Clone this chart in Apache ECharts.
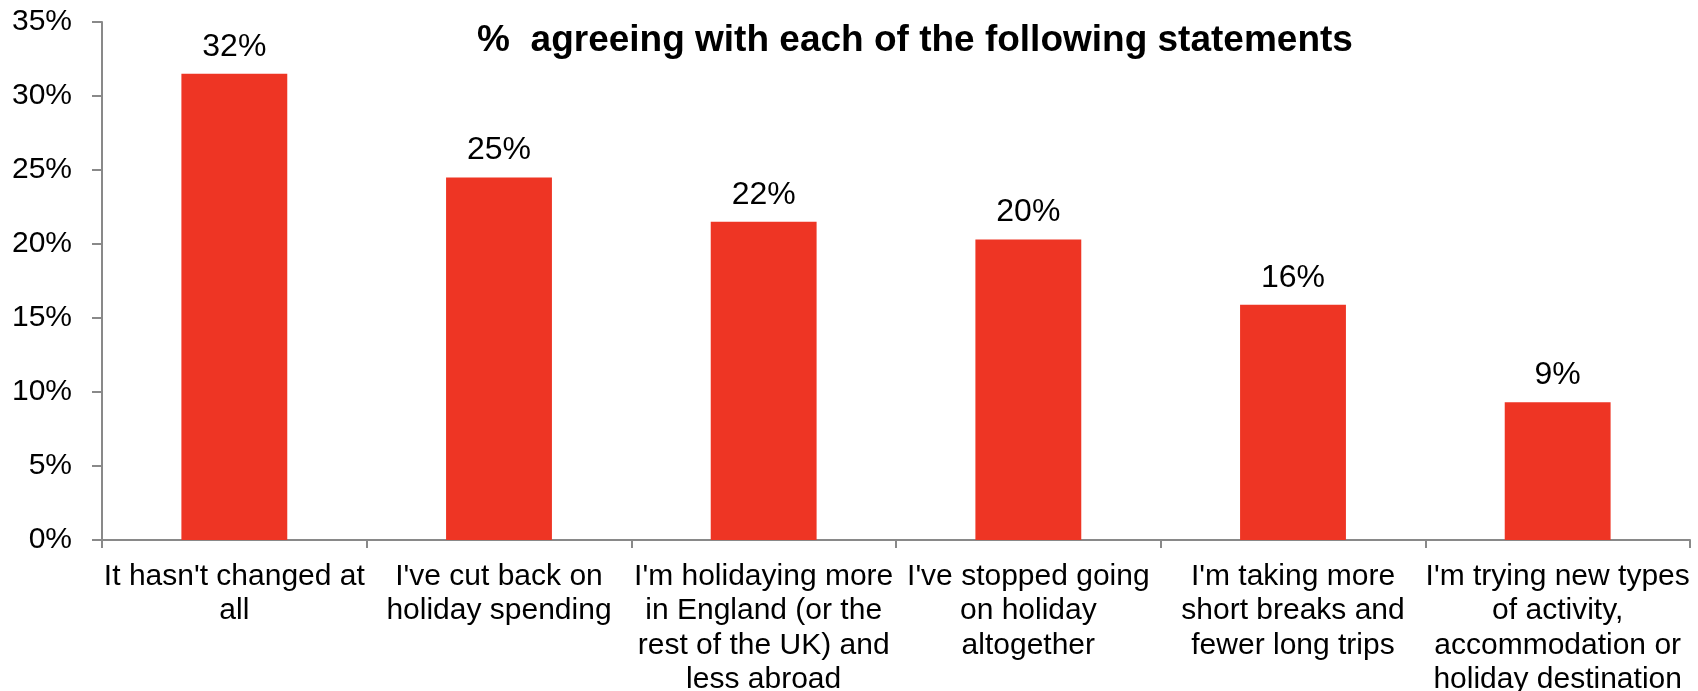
<!DOCTYPE html>
<html>
<head>
<meta charset="utf-8">
<title>% agreeing with each of the following statements</title>
<script src="https://cdn.jsdelivr.net/npm/echarts@6/dist/echarts.min.js"></script>
<style>
  html, body { margin: 0; padding: 0; background: #ffffff; }
  #chart { width: 1698px; height: 691px; }
</style>
</head>
<body>
<div id="chart"></div>
<script>
// Survey statements (x-axis categories, wrapped as printed)
const categories = [
  "It hasn't changed at\nall",
  "I've cut back on\nholiday spending",
  "I'm holidaying more\nin England (or the\nrest of the UK) and\nless abroad",
  "I've stopped going\non holiday\naltogether",
  "I'm taking more\nshort breaks and\nfewer long trips",
  "I'm trying new types\nof activity,\naccommodation or\nholiday destination"
];

// Share of respondents agreeing, in percent
const agreeing = [31.5, 24.5, 21.5, 20.3, 15.9, 9.3];

// Value axis ticks
const yMin = 0;
const yMax = 35;
const yStep = 5;

const titleText = "%  agreeing with each of the following statements";

const FONT = "'Liberation Sans', Arial, Helvetica, sans-serif";
const AXIS_GREY = '#898989';
const BAR_RED = '#EE3524';

const chart = echarts.init(document.getElementById('chart'), null, { renderer: 'canvas' });

chart.setOption({
  backgroundColor: '#ffffff',
  animation: false,
  textStyle: { fontFamily: FONT },
  grid: { left: 102, right: 8, top: 22, bottom: 151, outerBoundsMode: 'none' },
  graphic: [{
    type: 'text',
    x: 915,
    y: 41,
    style: {
      text: titleText,
      font: 'bold 37px ' + FONT,
      fill: '#000000',
      textAlign: 'center',
      textVerticalAlign: 'middle'
    }
  }],
  xAxis: {
    type: 'category',
    data: categories,
    axisLine: { lineStyle: { color: AXIS_GREY, width: 2 } },
    axisTick: { show: true, length: 8, lineStyle: { color: AXIS_GREY, width: 2 } },
    axisLabel: {
      interval: 0,
      margin: 19,
      color: '#000000',
      fontSize: 30,
      lineHeight: 34.5,
      fontFamily: FONT,
      align: 'center'
    }
  },
  yAxis: {
    type: 'value',
    min: yMin,
    max: yMax,
    interval: yStep,
    splitLine: { show: false },
    axisLine: { show: true, lineStyle: { color: AXIS_GREY, width: 2 } },
    axisTick: { show: true, length: 10, lineStyle: { color: AXIS_GREY, width: 2 } },
    axisLabel: {
      margin: 30,
      color: '#000000',
      fontSize: 30,
      fontFamily: FONT,
      formatter: '{value}%'
    }
  },
  series: [{
    type: 'bar',
    data: agreeing,
    barWidth: '40%',
    itemStyle: { color: BAR_RED },
    label: {
      show: true,
      position: 'top',
      distance: 11,
      color: '#000000',
      fontSize: 32,
      lineHeight: 32,
      fontFamily: FONT,
      formatter: p => Math.round(p.value) + '%'
    }
  }]
});
</script>
</body>
</html>
